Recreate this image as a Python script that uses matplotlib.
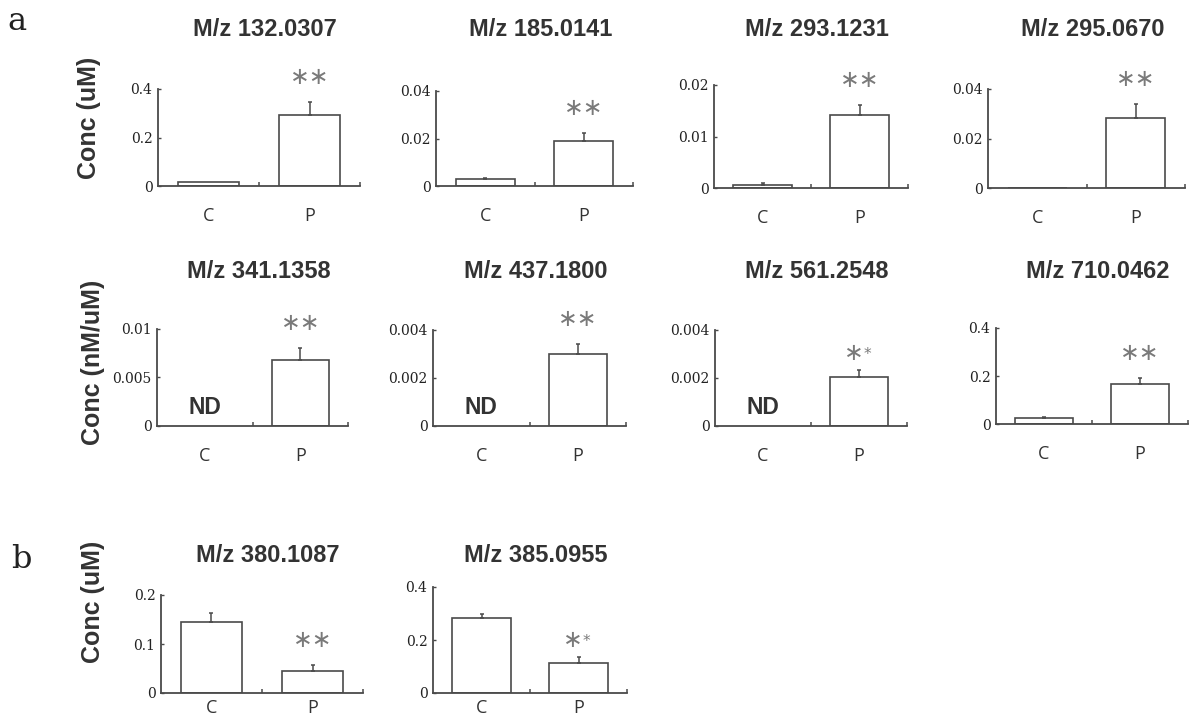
import numpy as np
import matplotlib
matplotlib.use('Agg')
import matplotlib.pyplot as plt

W, H = 1189, 719

# values (C = control, P = patient); nan = not detected
titles = ['M/z 132.0307', 'M/z 185.0141', 'M/z 293.1231', 'M/z 295.0670',
          'M/z 341.1358', 'M/z 437.1800', 'M/z 561.2548', 'M/z 710.0462',
          'M/z 380.1087', 'M/z 385.0955']
groups = ['C', 'P']
c_mean = [0.016, 0.003, 0.0006, 0.0, np.nan, np.nan, np.nan, 0.025, 0.145, 0.283]
c_err = [0.0, 0.0004, 0.0003, 0.0, np.nan, np.nan, np.nan, 0.005, 0.018, 0.015]
p_mean = [0.293, 0.019, 0.0142, 0.0283, 0.0068, 0.003, 0.00205, 0.167, 0.045, 0.113]
p_err = [0.053, 0.0033, 0.0019, 0.0057, 0.0012, 0.0004, 0.0003, 0.025, 0.012, 0.023]
y_ticks = [[0, 0.2, 0.4], [0, 0.02, 0.04], [0, 0.01, 0.02], [0, 0.02, 0.04],
           [0, 0.005, 0.01], [0, 0.002, 0.004], [0, 0.002, 0.004], [0, 0.2, 0.4],
           [0, 0.1, 0.2], [0, 0.2, 0.4]]
y_ticklabels = [['0', '0.2', '0.4'], ['0', '0.02', '0.04'], ['0', '0.01', '0.02'],
                ['0', '0.02', '0.04'], ['0', '0.005', '0.01'], ['0', '0.002', '0.004'],
                ['0', '0.002', '0.004'], ['0', '0.2', '0.4'], ['0', '0.1', '0.2'],
                ['0', '0.2', '0.4']]
star_small = [False, False, False, False, False, False, True, False, False, True]

# axes boxes in pixels: left, top, right, bottom
boxes = [(158, 89, 360, 186), (436, 91, 633, 186), (714, 85, 908, 188), (988, 89, 1185, 188),
         (157, 329, 348, 426), (433, 330, 626, 426), (715, 330, 907, 426), (996, 328, 1188, 424),
         (161, 595, 363, 693), (433, 587, 627, 693)]
rows = [0, 0, 0, 0, 1, 1, 1, 1, 2, 2]
title_y = [30, 272, 555]
label_pad = [15, 15, 4]

LINE = '#4a4a4a'

fig = plt.figure(figsize=(W / 100, H / 100), dpi=100)


def fx(x):
    return x / W


def fy(y):
    return 1 - y / H


for i in range(len(titles)):
    l, t, r, b = boxes[i]
    ax = fig.add_axes([fx(l), fy(b), (r - l) / W, (b - t) / H])
    x = np.arange(len(groups))
    vals = [c_mean[i], p_mean[i]]
    errs = [c_err[i], p_err[i]]
    for xi, v, e in zip(x, vals, errs):
        if np.isnan(v):
            ax.annotate('ND', xy=(xi, 0), xytext=(0, 13), textcoords='offset points',
                        ha='center', va='center', fontsize=16.5, fontweight='bold',
                        family='Liberation Sans', color='#333')
            continue
        ax.bar(xi, v, width=0.6, color='white', edgecolor=LINE, linewidth=1.2, zorder=2)
        if e > 0:
            ax.errorbar(xi, v, yerr=[[0], [e]], fmt='none', ecolor=LINE,
                        elinewidth=1.1, capsize=1.5, capthick=1.1, zorder=3)

    # significance marks above P
    top = p_mean[i] + p_err[i]
    if star_small[i]:
        ax.annotate('\u2217', xy=(1, top), xytext=(-4, 12), textcoords='offset points',
                    ha='center', va='center', fontsize=17, color='#7a7a7a', family='DejaVu Sans',
                    annotation_clip=False)
        ax.annotate('*', xy=(1, top), xytext=(6, 11), textcoords='offset points',
                    ha='center', va='center', fontsize=11, color='#7a7a7a', family='DejaVu Sans',
                    annotation_clip=False)
    else:
        ax.annotate('\u2217\u2217', xy=(1, top), xytext=(0, 18), textcoords='offset points',
                    ha='center', va='center', fontsize=17, color='#7a7a7a', family='DejaVu Sans',
                    annotation_clip=False)

    ax.set_xlim(-0.5, 1.5)
    ax.set_ylim(0, y_ticks[i][-1])
    ax.set_xticks(x)
    ax.set_xticklabels(groups, family='Open Sans', fontsize=13, color='#333')
    ax.set_xticks([0.5, 1.5], minor=True)
    ax.set_yticks(y_ticks[i])
    ax.set_yticklabels(y_ticklabels[i], family='DejaVu Serif', fontsize=10, color='#222')
    ax.tick_params(axis='x', which='major', length=0, pad=label_pad[rows[i]])
    ax.tick_params(axis='x', which='minor', direction='in', length=3, width=1.1, color=LINE)
    ax.tick_params(axis='y', direction='in', length=2.5, width=1.0, color=LINE, pad=4)
    for s in ['top', 'right']:
        ax.spines[s].set_visible(False)
    for s in ['left', 'bottom']:
        ax.spines[s].set_color(LINE)
        ax.spines[s].set_linewidth(1.3)
    ax.patch.set_alpha(0)

    fig.text(fx((l + r) / 2 + 6), fy(title_y[rows[i]]), titles[i], ha='center', va='center',
             fontsize=17, fontweight='bold', family='Liberation Sans', color='#333')

# y-axis labels and panel letters
fig.text(fx(89), fy(118), 'Conc (uM)', rotation=90, ha='center', va='center',
         fontsize=18, fontweight='bold', family='Liberation Sans', color='#333')
fig.text(fx(93), fy(362), 'Conc (nM/uM)', rotation=90, ha='center', va='center',
         fontsize=18, fontweight='bold', family='Liberation Sans', color='#333')
fig.text(fx(93), fy(602), 'Conc (uM)', rotation=90, ha='center', va='center',
         fontsize=18, fontweight='bold', family='Liberation Sans', color='#333')
fig.text(fx(17), fy(22), 'a', ha='center', va='center', fontsize=23,
         family='DejaVu Serif', color='#222')
fig.text(fx(21), fy(560), 'b', ha='center', va='center', fontsize=23,
         family='DejaVu Serif', color='#222')

fig.savefig('out.png', dpi=100, facecolor='white')
